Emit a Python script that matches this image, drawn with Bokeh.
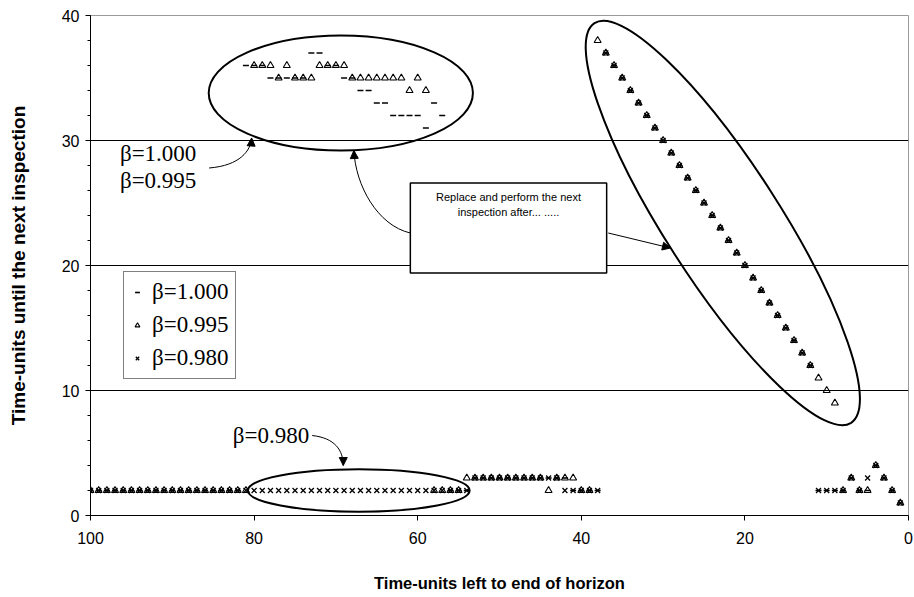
from bokeh.plotting import figure
from bokeh.models import (Range1d, FixedTicker, Arrow, NormalHead, ColumnDataSource,
                          Label, Legend, LegendItem)
from bokeh.embed import file_html
from bokeh.resources import INLINE

# Time-units left to the end of the horizon (x axis, read right to left)
horizon = list(range(100, 0, -1))

# Time-units until the next inspection, one value per horizon step (100 ... 1)
beta_1000 = [
    2, 2, 2, 2, 2, 2, 2, 2, 2, 2,          # 100-91
    2, 2, 2, 2, 2, 2, 2, 2, 2, 36,         # 90-81
    36, 36, 35, 35, 35, 35, 35, 37, 37, 36,  # 80-71
    36, 35, 35, 34, 34, 33, 33, 32, 32, 32,  # 70-61
    32, 31, 33, 32, 2, 2, 2, 3, 3, 3,      # 60-51
    3, 3, 3, 3, 3, 3, 3, 3, 3, 2,          # 50-41
    2, 2, 2, 37, 36, 35, 34, 33, 32, 31,   # 40-31
    30, 29, 28, 27, 26, 25, 24, 23, 22, 21,  # 30-21
    20, 19, 18, 17, 16, 15, 14, 13, 12, 2,   # 20-11
    2, 2, 2, 3, 2, 2, 4, 3, 2, 1,          # 10-1
]
beta_0995 = [
    2, 2, 2, 2, 2, 2, 2, 2, 2, 2,
    2, 2, 2, 2, 2, 2, 2, 2, 2, 2,
    36, 36, 36, 35, 36, 35, 35, 35, 36, 36,
    36, 36, 35, 35, 35, 35, 35, 35, 35, 34,
    35, 34, 2, 2, 2, 2, 3, 3, 3, 3,
    3, 3, 3, 3, 3, 3, 2, 3, 3, 3,
    2, 2, 38, 37, 36, 35, 34, 33, 32, 31,
    30, 29, 28, 27, 26, 25, 24, 23, 22, 21,
    20, 19, 18, 17, 16, 15, 14, 13, 12, 11,
    10, 9, 2, 3, 2, 2, 4, 3, 2, 1,
]
beta_0980 = [
    2, 2, 2, 2, 2, 2, 2, 2, 2, 2,
    2, 2, 2, 2, 2, 2, 2, 2, 2, 2,
    2, 2, 2, 2, 2, 2, 2, 2, 2, 2,
    2, 2, 2, 2, 2, 2, 2, 2, 2, 2,
    2, 2, 2, 2, 2, 2, 2, 3, 3, 3,
    3, 3, 3, 3, 3, 3, 3, 3, 2, 2,
    2, 2, 2, 37, 36, 35, 34, 33, 32, 31,
    30, 29, 28, 27, 26, 25, 24, 23, 22, 21,
    20, 19, 18, 17, 16, 15, 14, 13, 12, 2,
    2, 2, 2, 3, 2, 3, 4, 3, 2, 1,
]

series_labels = ["\u03b2=1.000", "\u03b2=0.995", "\u03b2=0.980"]
x_ticks = [0, 20, 40, 60, 80, 100]
y_ticks = [0, 10, 20, 30, 40]

SANS = "Liberation Sans"
SERIF = "Liberation Serif"

p = figure(width=914, height=597, output_backend="svg", toolbar_location=None,
           x_range=Range1d(100, 0), y_range=Range1d(0, 40),
           min_border_left=90, min_border_right=6, min_border_top=15,
           min_border_bottom=82)
p.background_fill_color = "white"
p.border_fill_color = "white"
p.outline_line_color = "#9a9a9a"
p.outline_line_width = 1

# axes
p.xaxis.ticker = FixedTicker(ticks=x_ticks)
p.yaxis.ticker = FixedTicker(ticks=y_ticks, minor_ticks=list(range(0, 41, 2)))
for ax in (p.xaxis[0], p.yaxis[0]):
    ax.axis_line_color = "black"
    ax.axis_line_width = 1
    ax.major_tick_line_color = "black"
    ax.major_tick_out = 5
    ax.major_tick_in = 0
    ax.major_label_text_font = SANS
    ax.major_label_text_font_size = "16px"
    ax.major_label_text_color = "black"
    ax.axis_label_text_font = SANS
    ax.axis_label_text_font_style = "bold"
    ax.axis_label_text_color = "black"
p.xaxis.axis_label_text_font_size = "16.5px"
p.yaxis.axis_label_text_font_size = "19px"
p.xaxis.minor_tick_line_color = None
p.yaxis.minor_tick_line_color = "black"
p.yaxis.minor_tick_out = 3
p.yaxis.minor_tick_in = 0
p.xaxis.major_label_standoff = 11
p.yaxis.major_label_standoff = 6
p.xaxis.axis_label = "Time-units left to end of horizon"
p.yaxis.axis_label = "Time-units until the next inspection"
p.xaxis.axis_label_standoff = 27
p.yaxis.axis_label_standoff = 30

p.xgrid.visible = False
p.ygrid.ticker = FixedTicker(ticks=[10, 20, 30, 40])
p.ygrid.grid_line_color = "black"
p.ygrid.grid_line_width = 1

# annotation box with its text
p.quad(left=[60.9], right=[36.9], bottom=[19.4], top=[26.6],
       fill_color="white", line_color="black", line_width=1.5)
for txt, yy in (("Replace and perform the next", 25.5), ("inspection after... .....", 24.3)):
    p.add_layout(Label(x=48.9, y=yy, text=txt, text_align="center",
                       text_baseline="middle", text_font=SANS,
                       text_font_size="11px", text_color="black"))

# series
src = ColumnDataSource(dict(x=horizon, b1=beta_1000, b2=beta_0995, b3=beta_0980))
r1 = p.scatter("x", "b1", source=src, marker="dash", size=6,
               line_color="black", line_width=1.6)
r2 = p.scatter("x", "b2", source=src, marker="triangle", size=7,
               line_color="black", fill_alpha=0, line_width=1.1)
r3 = p.scatter("x", "b3", source=src, marker="x", size=7,
               line_color="black", line_width=1.3)

# ellipses highlighting the regions
p.ellipse(x=[69.4], y=[33.8], width=[32.3], height=[9.2],
          fill_color=None, line_color="black", line_width=2)
p.ellipse(x=[67.2], y=[2.0], width=[27.1], height=[3.4],
          fill_color=None, line_color="black", line_width=2)
p.ellipse(x=[22.7], y=[23.4], width=[475], height=[115], angle=[-1.0],
          width_units="screen", height_units="screen",
          fill_color=None, line_color="black", line_width=2)

# curved pointers: (x0, y0, x1, y1, cx0, cy0, cx1, cy1)
curves = [
    (85.5, 27.8, 80.3, 30.2, 81.7, 28.0, 80.4, 29.2),
    (60.9, 22.6, 67.8, 29.2, 64.9, 23.2, 67.6, 26.4),
    (72.9, 6.4, 69.1, 4.0, 70.1, 6.2, 69.1, 5.2),
]
for x0, y0, x1, y1, cx0, cy0, cx1, cy1 in curves:
    p.bezier(x0=[x0], y0=[y0], x1=[x1], y1=[y1], cx0=[cx0], cy0=[cy0],
             cx1=[cx1], cy1=[cy1], line_color="black", line_width=1)
    p.add_layout(Arrow(end=NormalHead(size=8, fill_color="black", line_color="black"),
                       x_start=cx1, y_start=cy1, x_end=x1, y_end=y1,
                       line_alpha=0))
p.add_layout(Arrow(end=NormalHead(size=8, fill_color="black", line_color="black"),
                   x_start=36.7, y_start=22.6, x_end=29.1, y_end=21.4,
                   line_color="black", line_width=1))

# text labels
for txt, xx, yy in ((series_labels[0], 96.4, 29.0), (series_labels[1], 96.4, 26.8),
                    (series_labels[2], 82.6, 6.4)):
    p.add_layout(Label(x=xx, y=yy, text=txt, text_baseline="middle",
                       text_font=SERIF, text_font_size="23px", text_color="black"))

legend = Legend(items=[LegendItem(label=series_labels[0], renderers=[r1]),
                       LegendItem(label=series_labels[1], renderers=[r2]),
                       LegendItem(label=series_labels[2], renderers=[r3])],
                location=(33, 136))
legend.border_line_color = "black"
legend.border_line_width = 1
legend.background_fill_color = "white"
legend.background_fill_alpha = 1
legend.label_text_font = SERIF
legend.label_text_font_size = "23px"
legend.label_text_color = "black"
legend.label_height = 26
legend.glyph_width = 12
legend.glyph_height = 12
legend.label_standoff = 9
legend.spacing = 7
legend.padding = 7
legend.margin = 0
p.add_layout(legend)

open("out.html", "w").write(file_html(p, INLINE))
